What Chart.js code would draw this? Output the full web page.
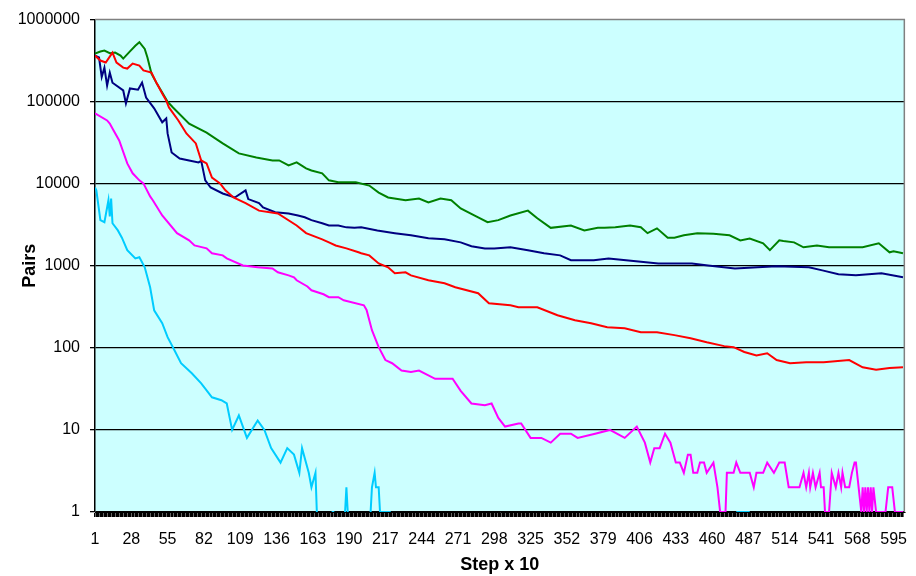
<!DOCTYPE html>
<html>
<head>
<meta charset="utf-8">
<script src="https://cdn.jsdelivr.net/npm/chart.js@4.4.0/dist/chart.umd.min.js"></script>
<style>
  html, body { margin: 0; padding: 0; background: #ffffff; }
  #wrap { width: 916px; height: 576px; position: relative; }
</style>
</head>
<body>
<div id="wrap"><canvas id="c" width="916" height="576"></canvas></div>
<script>
// ---- tick labels ----
const xTickLabels = [1, 28, 55, 82, 109, 136, 163, 190, 217, 244, 271, 298, 325, 352, 379, 406, 433, 460, 487, 514, 541, 568, 595];
const yTickValues = [1, 10, 100, 1000, 10000, 100000, 1000000];

// ---- series (Step x 10 -> Pairs) ----
const greenSteps = [1,5,8,12,16,20,22,27,31,34,38,40,43,47,51,55,59,71,84,96,108,121,133,138,145,151,158,162,170,175,182,188,195,205,212,219,232,242,249,258,266,273,286,293,301,310,323,330,340,355,365,375,380,388,399,407,412,419,427,432,439,449,461,473,481,488,498,503,510,513,521,528,538,547,560,572,584,592,595,602];
const greenPairs = [385000,408000,419000,390000,396000,365000,335000,410000,480000,530000,440000,345000,220000,166000,129000,100000,85000,54000,42000,31000,23400,20900,19200,19200,16700,18200,15400,14500,13400,11000,10400,10400,10400,9500,7800,6800,6300,6600,5900,6600,6300,5000,3900,3400,3600,4100,4700,3800,2900,3100,2700,2900,2900,2950,3100,2950,2500,2860,2200,2200,2350,2500,2450,2350,2040,2150,1880,1550,2040,2000,1930,1680,1770,1680,1680,1680,1880,1460,1500,1420];

const navySteps = [1,4,6,8,10,12,14,22,24,27,33,36,39,45,51,54,55,58,64,71,78,80,83,87,96,105,113,115,123,126,135,145,152,157,162,170,175,182,188,194,199,211,224,236,249,261,273,281,291,298,310,323,335,347,355,365,372,383,396,420,445,457,477,494,508,532,542,554,567,586,602];
const navyPairs = [365000,345000,200000,260000,157000,226000,170000,137000,95000,145000,140000,171000,112000,83000,56000,62500,41000,24000,20300,19200,18200,19000,11000,9000,7600,6800,8300,6500,5800,5150,4500,4350,4100,3900,3600,3300,3100,3100,2940,2900,2940,2700,2500,2350,2160,2100,1930,1730,1630,1630,1680,1550,1420,1340,1170,1170,1170,1230,1170,1070,1070,1010,930,960,985,960,880,790,765,810,725];

const redSteps = [1,5,9,14,17,22,25,29,34,37,43,47,51,54,56,63,69,76,80,84,88,94,98,104,113,123,137,151,158,170,175,180,188,197,199,205,212,219,224,232,236,249,261,269,286,294,310,316,330,345,358,370,382,395,407,419,432,444,456,469,476,484,493,501,508,518,530,543,562,572,582,592,602];
const redPairs = [365000,317000,300000,396000,300000,260000,253000,291000,275000,240000,226000,166000,126000,103000,85000,59000,41000,31000,19200,17700,11900,10100,8300,6800,5800,4700,4350,3100,2500,2100,1930,1770,1630,1460,1420,1340,1070,960,810,834,765,666,612,547,463,349,330,313,313,250,217,200,178,173,155,155,143,131,117,105,102,89,81,86,71,65,67,67,71,58,54,57,58];

const magentaSteps = [1,10,12,14,19,25,29,34,37,42,44,51,62,71,75,84,88,96,99,111,122,133,137,145,149,151,159,162,171,175,182,186,201,203,207,212,217,222,229,236,242,254,267,273,281,291,296,301,306,316,318,325,333,340,347,355,360,373,384,395,404,410,414,417,421,425,429,433,436,439,442,444,446,449,451,454,456,461,464,466,470,471,476,478,481,488,491,493,498,501,506,510,514,517,525,528,530,532,533,535,537,540,541,543,544,547,549,552,554,556,557,559,562,564,566,567,569,571,572,573,574,575,576,577,578,579,580,582,589,591,594,596,602];
const magentaPairs = [72000,59000,54000,47000,33700,17700,13400,11000,10100,7000,6300,4100,2500,2040,1770,1630,1420,1340,1230,1010,960,930,834,765,725,666,560,503,450,414,414,380,330,290,164,102,71,65,53,51,53,42,42,30,21,20,21,14,11,12,12,8,8,7,9,9,8,9,10,8,11,7,4,6,6,9,7,4,4,3,5,5,3,3,4,4,3,4,2,1,1,3,3,4,3,3,2,3,3,4,3,4,4,2,2,3,2,3,2,3,2,3,2,2,1,1,3,2,3,2,3,2,2,3,4,4,2,1,2,1,2,1,2,1,2,1,2,1,1,2,2,1,1];

const cyanSteps = [1,2,5,8,11,12,13,14,18,21,25,31,34,38,42,45,51,55,60,65,73,80,88,95,99,103,108,114,122,127,132,139,144,149,153,155,160,162,165,166,167,177,179,180,187,188,189,190,206,207,209,210,212,213,221,222,478,488,489];
const cyanPairs = [9000,8300,3600,3400,6300,4000,6600,3300,2700,2200,1550,1230,1270,960,547,287,200,135,94,65,49,37,25,23,21,10,15,8,13,10,6,4,6,5,3,6,3,2,3,1,null,1,1,null,1,2,1,null,1,2,3,2,2,1,1,null,1,1,null];

function pts(steps, vals) { return steps.map((s, i) => ({ x: s, y: vals[i] })); }

const FONT = "'Liberation Sans', Arial, sans-serif";
Chart.defaults.font.family = FONT;
Chart.defaults.color = '#000';

const plotBg = {
  id: 'plotBg',
  beforeDraw(chart) {
    const { ctx, chartArea: a } = chart;
    ctx.save();
    ctx.fillStyle = '#CCFFFF';
    ctx.fillRect(a.left, a.top, a.right - a.left, a.bottom - a.top);
    ctx.restore();
  },
  afterDraw(chart) {
    const { ctx, chartArea: a } = chart;
    ctx.save();
    ctx.strokeStyle = '#808080';
    ctx.lineWidth = 1.5;
    ctx.beginPath();
    ctx.moveTo(a.left, a.top);
    ctx.lineTo(a.right, a.top);
    ctx.lineTo(a.right, a.bottom);
    ctx.stroke();
    ctx.restore();
  }
};

const ds = (data, color) => ({
  data, borderColor: color, backgroundColor: color, borderWidth: 2,
  pointRadius: 0, tension: 0, spanGaps: false, fill: false
});

new Chart(document.getElementById('c'), {
  type: 'line',
  data: {
    datasets: [
      ds(pts(cyanSteps, cyanPairs), '#00CCFF'),
      ds(pts(magentaSteps, magentaPairs), '#FF00FF'),
      ds(pts(redSteps, redPairs), '#FF0000'),
      ds(pts(navySteps, navyPairs), '#000080'),
      ds(pts(greenSteps, greenPairs), '#008000')
    ]
  },
  options: {
    responsive: false,
    animation: false,
    devicePixelRatio: 1,
    layout: { padding: { top: 19, right: 8, bottom: 0, left: 0 } },
    plugins: { legend: { display: false }, tooltip: { enabled: false } },
    scales: {
      x: {
        type: 'linear',
        min: 1,
        max: 603,
        afterBuildTicks: (axis) => {
          const t = [];
          for (let v = 1; v <= 602; v++) t.push({ value: v });
          axis.ticks = t;
        },
        afterFit: (s) => { s.height = 64; },
        ticks: {
          autoSkip: false,
          maxRotation: 0,
          padding: 13,
          font: { size: 16 },
          color: '#000',
          callback: (v) => xTickLabels.includes(v) ? String(v) : ''
        },
        grid: { drawOnChartArea: false, drawTicks: true, tickLength: 5, color: '#000', lineWidth: 1.6 },
        border: { display: true, color: '#000', width: 1 },
        title: { display: true, text: 'Step x 10', font: { size: 18, weight: 'bold' }, padding: { top: 0, bottom: 0 } }
      },
      y: {
        type: 'logarithmic',
        min: 1,
        max: 1000000,
        afterBuildTicks: (axis) => { axis.ticks = yTickValues.map(v => ({ value: v, major: true })); },
        afterFit: (s) => { s.width = 95; },
        ticks: {
          padding: 10,
          font: { size: 16 },
          color: '#000',
          callback: (v) => String(v)
        },
        grid: {
          color: (c) => (c.tick && c.tick.value === 1000000) ? 'rgba(0,0,0,0)' : '#000',
          tickColor: '#000',
          lineWidth: 1.3,
          tickLength: 5
        },
        border: { display: true, color: '#000', width: 1.5 },
        title: { display: true, text: 'Pairs', font: { size: 18, weight: 'bold' }, padding: { top: 19, bottom: 0 } }
      }
    }
  },
  plugins: [plotBg]
});
</script>
</body>
</html>
